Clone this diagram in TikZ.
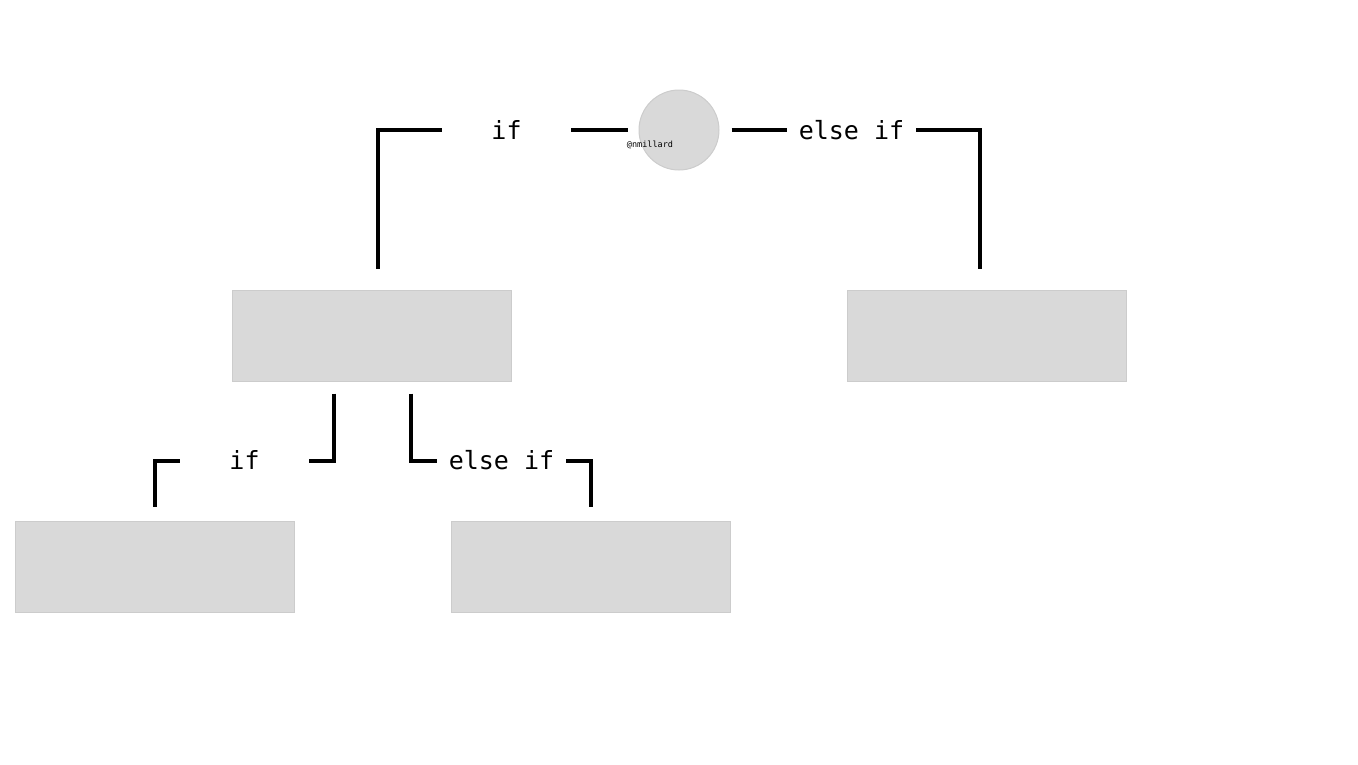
\documentclass[tikz,border=0pt]{standalone}
\usepackage{fontspec}
\setmonofont{DejaVu Sans Mono}
\usepackage{tikz}
\usetikzlibrary{%
	positioning,% wg. " of "
	calc
}
\definecolor{boxgray}{HTML}{D9D9D9}
\definecolor{edgegray}{HTML}{CCCCCC}
\tikzstyle{block}=[rectangle, minimum width=279pt, minimum height=91pt, inner sep=0pt, fill=boxgray, draw=edgegray, line width=1pt]
\tikzstyle{root}=[circle, minimum size=80pt, inner sep=0pt, fill=boxgray, draw=edgegray, line width=1pt]
\tikzstyle{cond}=[font=\ttfamily\fontsize{25}{25}\selectfont, minimum width=129pt, inner xsep=0pt]
\tikzstyle{tag}=[font=\ttfamily\fontsize{8.5}{8.5}\selectfont]
\tikzstyle{wire}=[draw, line width=4pt, line join=miter, line cap=butt]

\begin{document}
\begin{tikzpicture}[x=1pt,y=-1pt]
		\useasboundingbox (0,0) rectangle (1358,764);
		
		% First we draw the root and its tag
		\node[root] (top) at (679,130) {};
		\node[tag] (name) at (650,144.5) {@nmillard};
		
		% Then the blocks
		\foreach \pos/\name in {{(372,335.5)/left}, {(986.5,335.5)/right}, {(154.5,566.5)/leftleft}, {(590.5,566.5)/leftright}}
		\node[block] (\name) at \pos {};
		
		% The conditions in the gaps of the wires
		\foreach \pos/\name/\cond in {{(506.5,130)/ifa/if}, {(851.5,130)/elifa/else if}, {(244.5,460)/ifb/if}, {(501.5,460)/elifb/else if}}
		\node[cond] (\name) at \pos {\cond};
		
		% Wires from the root
		\path[wire] ([xshift=-11pt]top.west) -- (ifa.east);
		\path[wire] (ifa.west) -| ([xshift=6pt,yshift=21pt]left.north);
		\path[wire] ([xshift=12pt]top.east) -- (elifa.west);
		\path[wire] (elifa.east) -| ([xshift=-6.5pt,yshift=21pt]right.north);
		
		% Wires from the left block
		\path[wire] ([xshift=-38pt,yshift=-12pt]left.south) |- ([yshift=-1pt]ifb.east);
		\path[wire] ([yshift=-1pt]ifb.west) -| ([yshift=14pt]leftleft.north);
		\path[wire] ([xshift=39pt,yshift=-12pt]left.south) |- ([yshift=-1pt]elifb.west);
		\path[wire] ([yshift=-1pt]elifb.east) -| ([yshift=14pt]leftright.north);
		
\end{tikzpicture}
\end{document}
